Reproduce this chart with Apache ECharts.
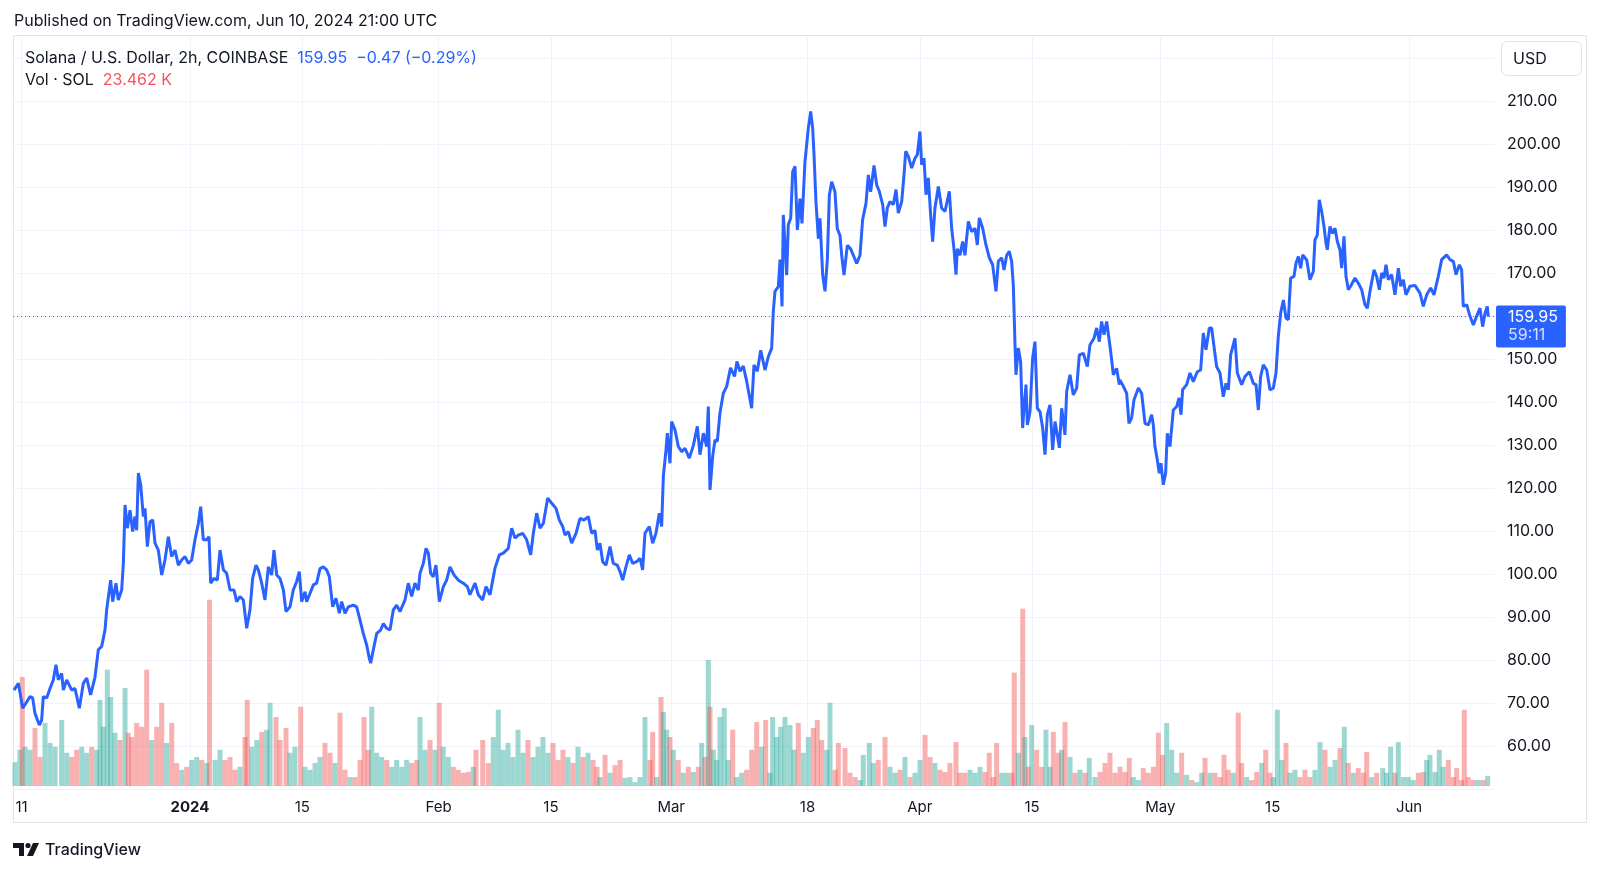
<!DOCTYPE html>
<html>
<head>
<meta charset="utf-8">
<script src="https://cdn.jsdelivr.net/npm/echarts@6/dist/echarts.min.js"></script>
<style>
html,body{margin:0;padding:0;background:#fff;}
#main{width:1600px;height:872px;}
</style>
</head>
<body>
<div id="main"></div>
<script>
// ---- Data (days since 2024-01-01 00:00 UTC) ----
const priceDays = [
-21.95,-21.40,-21.20,-20.86,-20.45,-19.95,-19.62,-19.33,-18.79,-18.50,-18.29,-17.87,-17.46,-17.04,-16.71,-16.42,-16.00,-15.79,-15.38,-14.75,
-14.34,-13.80,-13.30,-12.88,-12.39,-11.85,-11.43,-11.01,-10.60,-10.39,-10.06,-9.89,-9.64,-9.23,-8.94,-8.52,-8.31,-8.10,-7.81,-7.48,
-7.15,-6.86,-6.65,-6.44,-6.15,-5.82,-5.61,-5.32,-4.99,-4.65,-4.36,-3.95,-3.53,-3.12,-2.70,-2.29,-1.87,-1.45,-1.04,-0.62,
-0.21,0.21,0.62,1.04,1.33,1.66,2.08,2.37,2.58,2.99,3.41,3.74,4.16,4.57,4.99,5.49,5.82,6.23,6.65,7.07,
7.48,7.81,8.23,8.52,8.94,9.35,9.77,10.18,10.47,10.81,11.22,11.64,11.97,12.47,12.88,13.30,13.63,13.92,14.34,14.55,
14.96,15.38,15.79,16.21,16.62,17.04,17.37,17.79,18.20,18.62,18.91,19.33,19.74,20.37,20.78,21.20,21.61,22.03,22.36,22.53,
22.86,23.28,23.77,24.11,24.52,24.94,
25.35,25.77,26.18,26.81,27.22,27.64,28.05,28.47,28.68,29.09,29.43,29.72,30.01,30.34,30.67,31.09,31.59,32.00,32.42,32.92,
33.46,34.08,34.58,34.91,35.54,35.95,36.49,36.91,37.41,38.03,38.57,39.07,39.69,40.11,40.52,40.94,41.48,41.98,42.48,42.81,
43.23,43.64,44.06,44.60,45.10,45.64,46.05,46.47,46.76,47.17,47.59,48.13,48.63,49.13,49.67,50.08,50.50,50.79,51.12,51.46,
51.87,52.37,52.78,53.28,53.62,53.95,54.36,54.78,55.20,55.69,56.11,56.44,56.73,57.27,57.69,58.10,58.52,58.81,59.02,59.35,
59.52,59.85,60.06,60.47,60.89,61.31,61.72,62.26,62.76,63.26,63.59,64.01,64.42,64.63,64.84,65.17,65.46,65.75,66.08,66.50,
66.92,67.40,67.90,68.20,
68.58,68.99,69.41,70.03,70.32,70.74,71.16,71.70,72.11,72.53,72.73,72.94,73.36,73.57,73.82,73.98,74.40,74.60,74.90,75.15,
75.44,75.73,76.06,76.31,76.68,77.10,77.39,77.64,77.81,78.05,78.35,78.55,78.89,79.18,79.47,79.72,80.01,80.42,80.71,81.05,
81.26,81.55,81.96,82.38,82.71,83.13,83.54,83.87,84.29,84.58,84.87,85.29,85.62,85.95,86.37,86.66,86.95,87.28,87.70,88.03,
88.32,88.74,89.03,89.24,89.57,89.98,90.40,90.69,91.02,91.23,91.52,91.77,92.06,92.35,92.60,92.89,93.31,93.72,94.14,94.68,
94.97,95.26,95.51,95.68,96.01,96.34,96.63,97.05,97.46,97.88,98.17,98.42,98.84,99.25,99.67,100.08,100.50,100.79,101.21,101.50,
101.83,102.16,102.45,102.66,102.87,102.99,103.28,103.57,103.82,103.99,104.24,104.41,104.74,105.07,105.36,105.65,105.99,106.32,106.61,106.90,
107.23,107.56,107.86,108.15,108.40,108.69,109.10,109.31,109.73,110.14,110.56,110.89,111.39,111.89,112.22,112.72,113.05,113.38,113.67,113.97,
114.30,114.51,114.80,115.13,115.54,115.88,
115.96,116.38,116.79,117.08,117.41,117.71,118.25,118.66,119.08,119.49,119.91,120.12,120.32,120.61,120.86,121.07,121.36,121.65,121.86,122.19,
122.61,123.03,123.32,123.57,123.77,124.27,124.69,125.10,125.60,126.02,126.35,126.68,127.10,127.39,127.68,128.01,128.43,128.84,129.18,129.47,
129.76,130.30,130.59,131.13,131.55,132.09,132.59,132.92,133.21,133.50,133.83,134.25,134.66,135.08,135.41,135.70,135.99,136.33,136.66,136.95,
137.24,137.66,137.91,138.20,138.49,138.74,139.24,139.65,140.07,140.27,140.56,140.81,141.11,141.40,141.65,141.81,142.14,142.48,142.77,143.06,
143.39,143.60,143.89,144.14,144.43,144.72,145.26,145.68,146.09,146.51,146.80,147.13,147.63,147.96,148.30,148.59,148.88,149.13,149.42,149.83,
150.25,150.67,150.96,151.29,151.62,152.12,152.74,153.37,153.78,154.20,154.70,155.11,155.65,156.07,156.69,157.11,157.52,157.86,158.27,158.56,
158.77,159.19,159.60,160.02,160.43,160.85,161.18,161.47,161.76,161.875
];
const priceValues = [
73.0,74.6,75.0,68.8,70.0,71.5,71.2,67.6,64.9,66.0,71.5,71.2,73.4,75.4,78.9,75.4,76.9,73.0,75.4,73.0,
73.4,68.8,74.6,75.8,71.9,76.0,82.4,83.2,87.0,91.7,96.3,98.6,93.6,97.9,94.0,96.3,102.5,116.1,110.7,114.9,
109.9,113.4,110.2,123.5,120.8,113.4,115.3,106.4,112.2,112.6,107.2,105.6,99.8,103.3,108.7,104.1,105.6,102.1,103.3,104.1,
102.5,103.3,108.0,111.8,115.7,108.0,108.0,108.7,97.9,99.0,98.6,105.6,101.0,100.2,96.3,96.3,93.6,94.8,94.0,87.4,
91.7,99.0,102.1,101.0,97.9,94.0,101.7,99.8,105.6,99.8,99.0,96.3,91.3,92.4,96.3,98.3,100.6,93.6,95.9,93.6,
95.5,97.5,97.9,101.3,101.7,101.0,99.4,92.4,94.4,90.9,93.6,90.9,92.4,92.8,92.4,89.3,86.2,83.5,80.4,79.3,
82.4,86.2,87.0,88.5,87.4,87.0,
91.7,92.8,91.3,94.0,97.9,94.8,97.9,96.3,100.2,102.5,106.0,104.9,100.2,99.4,102.1,93.6,97.1,98.6,101.7,99.8,
98.6,97.9,97.1,95.2,97.9,95.2,94.0,97.1,95.2,101.4,104.5,104.9,106.0,110.7,108.4,109.1,109.5,108.0,104.5,109.5,
114.2,110.7,111.8,117.7,116.5,115.3,112.6,111.1,109.1,109.9,107.2,109.5,113.0,112.6,113.4,109.5,110.2,105.6,107.2,102.9,
102.1,106.4,102.5,102.1,100.6,98.6,101.7,104.5,102.5,102.9,103.7,101.0,109.5,111.1,107.2,109.5,114.2,111.1,122.7,128.9,
132.8,125.8,135.5,133.6,129.7,128.5,129.3,127.0,129.9,134.4,127.8,132.8,129.7,139.0,119.6,127.4,131.2,130.9,137.5,142.1,
143.7,148.0,146.0,149.5,
147.2,148.4,144.9,138.6,148.7,147.2,152.1,147.5,150.6,152.6,161.1,165.8,166.9,173.2,162.3,183.6,169.6,181.3,182.8,193.7,
194.9,180.1,187.4,181.6,196.0,203.8,207.7,203.8,197.6,186.6,178.1,182.8,169.6,165.8,173.2,188.2,191.3,189.0,180.4,178.8,
174.2,169.6,176.5,175.7,174.2,172.3,174.2,182.5,186.3,192.9,189.0,195.1,190.6,189.1,186.0,180.9,185.2,186.7,186.0,189.5,
184.0,186.7,192.9,198.4,197.2,194.5,196.8,197.6,203.0,195.3,196.8,188.3,192.2,183.6,177.4,185.2,190.2,185.2,184.4,189.1,
180.5,175.7,169.7,175.7,174.2,177.4,174.2,182.1,179.7,180.5,176.6,182.9,180.5,176.6,173.6,172.0,165.8,172.8,173.6,170.8,
174.2,175.1,172.8,167.3,153.4,146.4,152.6,149.5,134.0,138.6,144.1,134.7,137.8,150.3,154.1,138.6,137.8,134.0,127.8,137.1,
139.4,128.9,135.5,132.4,129.4,138.6,132.4,142.5,146.4,141.7,143.3,151.0,151.4,148.3,153.4,154.9,157.3,154.1,158.8,155.7,
158.8,159.2,151.8,146.4,147.9,144.1,
145.2,143.7,142.1,135.1,136.3,140.6,143.3,142.1,135.1,134.7,137.1,134.7,129.7,126.6,123.5,125.8,120.8,123.5,132.8,129.7,
138.2,139.0,141.0,137.1,142.9,144.1,146.8,144.8,147.1,147.5,156.1,152.2,157.3,157.3,153.0,148.3,146.8,141.3,144.4,142.9,
151.0,154.9,146.8,144.1,146.0,147.1,144.4,144.1,138.2,146.0,148.7,147.5,142.9,143.3,146.8,155.3,160.7,163.8,159.6,159.2,
168.9,169.3,172.4,173.9,171.2,174.3,173.1,168.5,170.5,177.8,178.9,187.1,184.4,180.9,177.0,175.5,180.9,179.3,180.5,177.4,
175.5,171.2,178.6,169.3,166.2,167.0,168.9,167.7,166.2,162.7,161.9,165.8,170.8,169.3,166.2,170.1,168.9,172.0,168.5,169.7,
165.0,171.2,167.0,168.5,165.0,167.0,167.2,165.4,162.3,165.0,166.6,165.0,169.3,173.2,174.3,173.2,172.8,169.7,172.0,170.8,
162.3,162.7,160.0,158.0,160.0,161.9,157.6,160.7,162.3,159.95
];

// Volume (thousands of SOL), sampled bars
const volDays = [
-21.82,-21.20,-20.91,-20.57,-19.95,-19.33,-18.70,-18.08,-17.46,-16.83,-16.00,-15.37,-14.75,-14.13,-13.50,-12.88,-12.26,-11.63,-11.22,-10.81,
-10.31,-9.89,-9.35,-8.73,-8.10,-7.69,-7.27,-6.65,-6.02,-5.40,-4.78,-4.15,-3.53,-2.91,-2.28,-1.66,-1.03,-0.41,0.21,0.84,
1.46,2.08,2.43,3.12,3.74,4.36,4.99,5.61,6.23,6.86,7.14,7.69,8.32,8.94,9.56,9.98,10.72,11.22,11.97,12.47,
13.09,13.80,14.34,14.96,15.59,16.21,16.83,17.46,18.08,18.70,19.33,19.95,20.57,21.20,21.70,22.23,22.66,23.28,23.90,24.53,
25.15,25.77,26.40,27.02,27.64,28.27,28.68,29.30,29.93,30.55,31.08,31.58,32.21,32.83,33.45,34.08,34.70,35.32,35.66,36.50,
37.19,37.82,38.44,39.03,39.65,40.27,40.90,41.52,42.14,42.77,43.39,44.01,44.64,45.26,45.89,46.51,47.13,47.76,48.38,49.00,
49.63,50.25,50.75,51.12,51.75,52.37,52.99,53.62,54.24,54.86,55.49,56.11,56.73,57.36,57.69,58.19,58.73,59.02,59.44,59.85,
60.27,60.89,61.51,62.14,62.76,63.38,63.80,64.21,64.63,64.84,65.25,65.67,66.08,66.62,67.12,67.67,68.17,68.79,69.41,70.04,
70.66,71.28,71.78,72.32,72.65,73.15,73.65,74.19,74.81,75.31,75.85,76.47,77.10,77.72,78.22,78.76,79.39,79.80,80.42,80.84,
81.67,82.29,82.92,83.54,83.95,84.70,85.20,85.82,86.66,87.28,87.91,88.53,89.15,89.78,90.40,91.02,91.65,92.27,92.89,93.52,
94.14,94.76,95.51,96.01,96.63,97.26,97.88,98.50,99.13,99.66,100.16,100.58,101.21,101.83,102.45,102.78,103.28,103.83,104.11,104.53,
104.95,105.57,106.20,106.73,107.23,107.65,108.27,108.69,109.10,109.73,110.35,110.97,111.60,112.13,112.84,
113.47,114.09,114.71,115.34,115.96,116.58,117.12,117.62,118.24,118.87,119.49,120.12,120.74,121.28,121.78,122.41,123.03,123.65,124.28,124.90,
125.52,126.15,126.56,127.18,127.81,128.43,128.93,129.46,130.09,130.71,131.13,131.76,132.38,133.00,133.63,134.13,134.66,135.08,135.58,136.13,
136.66,137.16,137.78,138.40,139.03,139.65,140.27,140.90,141.52,142.14,142.77,143.39,143.93,144.43,145.05,145.67,146.30,146.72,147.34,147.97,
148.72,149.21,149.71,150.25,150.66,151.29,151.91,152.53,153.16,153.78,154.20,154.61,155.24,155.77,156.27,156.90,157.52,157.94,158.56,158.89,
159.39,160.02,160.64,161.26,161.81
];
const volValues = [
56,85,256,92,85,136,68,148,101,92,155,78,68,85,92,78,92,85,202,139,
273,209,125,108,230,125,115,148,139,273,108,139,195,101,148,54,38,45,61,68,
61,54,437,61,85,61,68,38,45,115,202,92,108,127,132,195,162,108,136,78,
92,186,45,38,54,68,101,78,54,172,38,21,21,61,162,85,186,78,68,61,
45,61,45,61,54,61,162,85,108,85,195,92,68,45,38,31,33,45,85,108,
54,115,179,85,101,68,132,78,108,68,92,115,78,101,61,85,68,54,92,68,
78,61,45,21,73,31,49,61,19,21,9,21,162,61,127,21,209,174,132,115,
85,61,31,45,33,45,101,68,296,186,85,61,162,183,61,132,21,31,38,85,
150,92,155,31,162,115,139,162,143,85,148,78,115,136,155,108,85,195,38,101,
89,31,21,14,73,101,54,61,115,45,31,38,68,21,31,61,120,68,54,38,
33,54,103,31,31,38,31,45,33,78,21,101,31,31,31,266,78,416,115,45,
143,85,45,132,45,127,78,85,150,68,31,38,31,66,21,
33,54,78,31,45,33,66,21,14,42,31,45,125,73,148,85,31,78,26,14,
9,31,66,31,31,21,73,38,31,172,54,21,14,33,54,85,31,21,179,61,
101,31,38,21,38,21,38,103,85,45,61,89,139,54,31,42,31,80,21,31,
42,31,92,31,103,21,21,14,31,33,61,73,33,85,45,61,21,42,14,179,
21,14,14,14,23.462
];

const xTickDates = ['2023-12-11','2024-01-01','2024-01-15','2024-02-01','2024-02-15','2024-03-01','2024-03-18','2024-04-01','2024-04-15','2024-05-01','2024-05-15','2024-06-01'];
const monthNames = ['Jan','Feb','Mar','Apr','May','Jun','Jul','Aug','Sep','Oct','Nov','Dec'];
const yGridValues = [50,60,70,80,90,100,110,120,130,140,150,160,170,180,190,200,210,220];
const yLabelValues = [60,70,80,90,100,110,120,130,140,150,160,170,180,190,200,210];

const lastPrice = 159.95;
const lastChange = '−0.47 (−0.29%)';
const countdown = '59:11';
const lastVolumeK = 23.462;

// ---- Build ----
const DAY = 864e5, T0 = Date.UTC(2024,0,1);
const toTs = d => T0 + d*DAY;
const xMin = toTs(-22.07), xMax = toTs(162.72);
const priceData = priceDays.map((d,i)=>[toTs(d), priceValues[i]]);
function priceAt(d){
  if (d <= priceDays[0]) return priceValues[0];
  for (let i=1;i<priceDays.length;i++){
    if (priceDays[i] >= d){
      const t=(d-priceDays[i-1])/(priceDays[i]-priceDays[i-1]);
      return priceValues[i-1]+t*(priceValues[i]-priceValues[i-1]);
    }
  }
  return priceValues[priceValues.length-1];
}
const UP='rgba(38,166,154,0.45)', DOWN='rgba(239,83,80,0.45)';
const volData = volDays.map((d,i)=>({
  value:[toTs(d), volValues[i]],
  itemStyle:{color: priceAt(d) >= priceAt(d-0.3) ? UP : DOWN}
}));
const xTicks = xTickDates.map(s=>Date.parse(s+'T00:00:00Z'));

const chart = echarts.init(document.getElementById('main'));
const FONT = 'Inter, "Noto Sans", sans-serif';
const TXT = '#131722';
chart.setOption({
  animation:false,
  backgroundColor:'#ffffff',
  textStyle:{fontFamily:FONT},
  grid:[
    {left:13, right:105, top:37, bottom:83},
    {left:13, right:105, top:590, bottom:86}
  ],
  xAxis:[
    {type:'value', gridIndex:0, min:xMin, max:xMax,
     axisLine:{show:false}, axisTick:{show:false, customValues:xTicks},
     splitLine:{show:true, lineStyle:{color:'#f0f3fa', width:1}},
     axisLabel:{customValues:xTicks, color:TXT, fontSize:15, fontFamily:FONT, margin:11,
       formatter:(v)=>{const dt=new Date(v); const m=dt.getUTCMonth(), dd=dt.getUTCDate();
         if(m===0&&dd===1) return '{b|'+dt.getUTCFullYear()+'}';
         if(dd===1) return monthNames[m];
         return String(dd);},
       rich:{b:{fontWeight:'bold', fontSize:15, color:TXT, fontFamily:FONT}}}},
    {type:'value', gridIndex:1, min:xMin, max:xMax, show:false, splitLine:{show:false}}
  ],
  yAxis:[
    {type:'value', gridIndex:0, position:'right', min:50, max:225,
     axisLine:{show:false}, axisTick:{show:false, customValues:yGridValues},
     splitLine:{show:true, lineStyle:{color:'#f0f3fa', width:1}},
     axisLabel:{customValues:yLabelValues, color:TXT, fontSize:16, fontFamily:FONT, margin:12, align:'left',
       formatter:(v)=>v.toFixed(2)}},
    {type:'value', gridIndex:1, min:0, max:460, show:false, splitLine:{show:false}}
  ],
  series:[
    {type:'bar', xAxisIndex:1, yAxisIndex:1, data:volData, barWidth:5, z:1, silent:true,
     markLine:{silent:true, symbol:'none', animation:false,
       lineStyle:{opacity:0},
       label:{show:true, position:'end', distance:1, formatter:lastVolumeK.toFixed(3)+' K',
         color:'#fff', backgroundColor:'#F7525F', padding:[3,8,3,12], fontSize:16, fontFamily:FONT, borderRadius:2},
       data:[{yAxis:lastVolumeK}]}},
    {type:'line', xAxisIndex:0, yAxisIndex:0, data:priceData, showSymbol:false, z:5, silent:true,
     lineStyle:{color:'#2962FF', width:3},
     markLine:{silent:true, symbol:'none', animation:false,
       lineStyle:{type:[1,3], color:'#2962FF', width:1},
       label:{show:true, position:'end', distance:1, offset:[0,10],
         formatter:'{p|'+lastPrice.toFixed(2)+'}\n{c|'+countdown+'}',
         backgroundColor:'#2962FF', padding:[3,8,3,12], borderRadius:2,
         rich:{p:{color:'#fff', fontSize:16, lineHeight:18, fontFamily:FONT},
               c:{color:'rgba(255,255,255,0.8)', fontSize:16, lineHeight:18, fontFamily:FONT}}},
       data:[{yAxis:lastPrice}]}}
  ],
  graphic:{elements:[
    {type:'rect', shape:{x:13.5, y:35.5, width:1573, height:787}, style:{fill:'none', stroke:'#e0e3eb', lineWidth:1}, z:-1, silent:true},
    {type:'text', x:14, y:21, z:100, style:{text:'Published on TradingView.com, Jun 10, 2024 21:00 UTC', fill:TXT, fontSize:16, fontFamily:FONT, verticalAlign:'middle'}},
    {type:'text', x:25, y:58, z:100, style:{text:'{n|Solana / U.S. Dollar, 2h, COINBASE}  {p|'+lastPrice.toFixed(2)+'}  {p|'+lastChange+'}',
       verticalAlign:'middle', fontSize:16, fontFamily:FONT,
       rich:{n:{fill:TXT, fontSize:16, fontFamily:FONT}, p:{fill:'#2962FF', fontSize:16, fontFamily:FONT}}}},
    {type:'text', x:25, y:80, z:100, style:{text:'{n|Vol · SOL}  {r|'+lastVolumeK.toFixed(3)+' K}',
       verticalAlign:'middle', fontSize:16, fontFamily:FONT,
       rich:{n:{fill:TXT, fontSize:16, fontFamily:FONT}, r:{fill:'#F7525F', fontSize:16, fontFamily:FONT}}}},
    {type:'rect', z:100, shape:{x:1501.5, y:41.5, width:80, height:34, r:6}, style:{fill:'#fff', stroke:'#e0e3eb', lineWidth:1}},
    {type:'text', z:101, x:1513, y:59, style:{text:'USD', fill:TXT, fontSize:16, fontFamily:FONT, verticalAlign:'middle'}},
    {type:'polygon', shape:{points:[[13,843],[24,843],[24,856],[19,856],[19,848],[13,848]]}, style:{fill:TXT}},
    {type:'circle', shape:{cx:28, cy:845.5, r:2.6}, style:{fill:TXT}},
    {type:'polygon', shape:{points:[[33,843],[39,843],[33,856],[27,856]]}, style:{fill:TXT}},
    {type:'text', x:45, y:850, style:{text:'TradingView', fill:TXT, fontSize:16, fontWeight:500, fontFamily:FONT, verticalAlign:'middle'}}
  ]}
});
</script>
</body>
</html>
